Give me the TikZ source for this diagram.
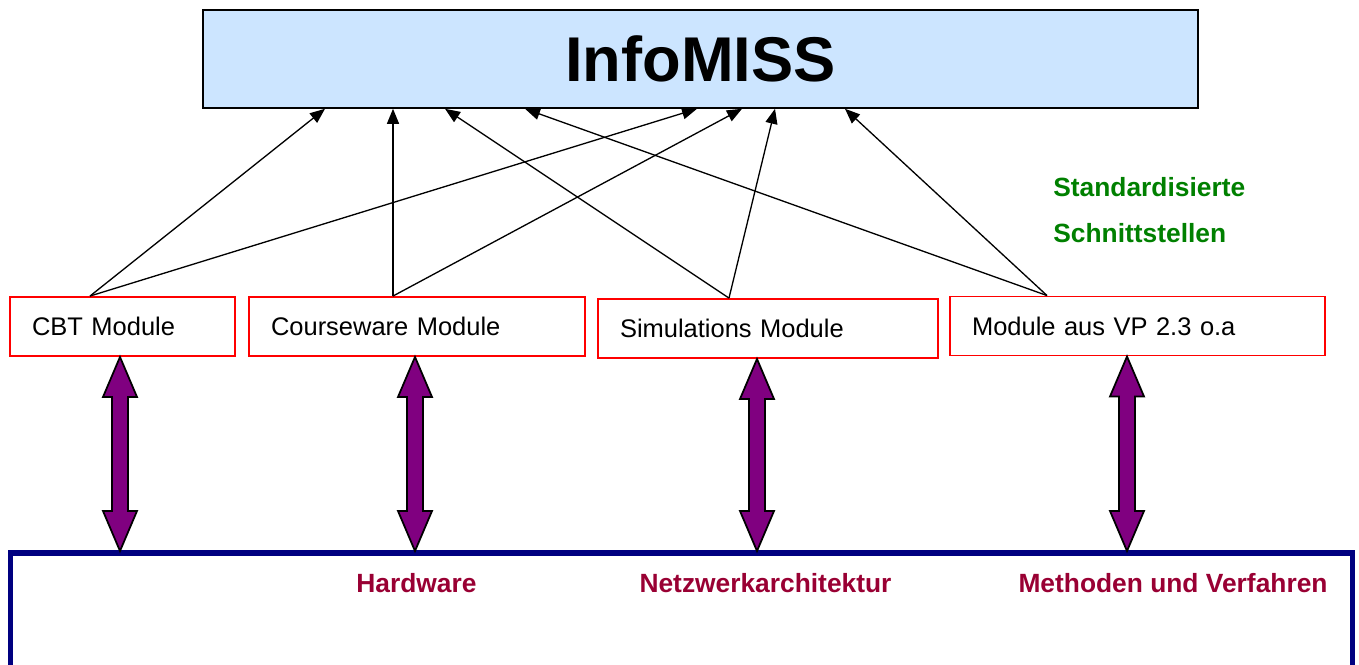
\documentclass[tikz,border=0pt]{standalone}
\usepackage{fontspec}
\setmainfont{Liberation Sans}
\usetikzlibrary{arrows.meta,calc}
\definecolor{boxblue}{RGB}{204,229,255}
\definecolor{navyline}{RGB}{0,0,128}
\definecolor{labelred}{RGB}{153,0,51}
\definecolor{stdgreen}{RGB}{0,128,0}
\definecolor{fatpurple}{RGB}{128,0,128}

\begin{document}
\begin{tikzpicture}[x=0.02cm,y=-0.02cm,>={Triangle[length=0.3cm,width=0.24cm]},
  modul/.style={draw=red,line width=1.1pt,minimum height=1.18cm,inner xsep=0.44cm,align=left,font=\fontsize{14.5}{17}\selectfont},
  link/.style={->,line width=0.75pt},
  fat/.style={fill=fatpurple,draw=black,line width=1pt},
  lab/.style={inner sep=0pt,font=\bfseries\fontsize{15}{18}\selectfont}]
\useasboundingbox (0,0) rectangle (1359,664);
\node[draw,line width=0.9pt,fill=boxblue,minimum width=19.9cm,minimum height=1.96cm,font=\bfseries\fontsize{36}{40}\selectfont] (info) at (700.5,59) {InfoMISS};
% module boxes
\node[modul,text width=3.62cm] (cbt) at (122.5,326.5) {CBT Module};
\node[modul,text width=5.84cm] (course) at (417,326.5) {Courseware Module};
\node[modul,text width=5.92cm] (sim) at (768,328.5) {Simulations Module};
\node[modul,text width=6.62cm] (vp) at (1137.5,326) {Module aus VP 2.3 o.a};
\node[lab,text=stdgreen,anchor=west] (std1) at (1053,187) {Standardisierte};
\node[lab,text=stdgreen,anchor=west] (std2) at (1053,233) {Schnittstellen};
% base box
\begin{scope}
\clip (0,0) rectangle (1359,664);
\node[draw=navyline,line width=2.9pt,outer sep=0pt,minimum width=26.84cm,minimum height=2.6cm,anchor=north west] (base) at (10.5,553) {};
\end{scope}
\node[lab,text=labelred] (hw) at (416.5,583) {Hardware};
\node[lab,text=labelred] (net) at (765.5,583) {Netzwerkarchitektur};
\node[lab,text=labelred] (meth) at (1173,583) {Methoden und Verfahren};
% interfaces
\coordinate (cbt-o) at (90,0 |- cbt.north);
\coordinate (course-o) at (393,0 |- course.north);
\coordinate (sim-o) at (729,0 |- sim.north);
\coordinate (vp-o) at (1047,0 |- vp.north);
\foreach \n/\x in {a/325,b/697,c/393,d/742,e/445,f/775,g/525,h/845}
  \coordinate (in-\n) at (\x,0 |- info.south);
\foreach \s/\t in {cbt-o/in-a,cbt-o/in-b,course-o/in-c,course-o/in-d,sim-o/in-e,sim-o/in-f,vp-o/in-g,vp-o/in-h}
  \draw[link] (\s) -- (\t);
% double arrows
\foreach \m/\x in {cbt/120,course/415,sim/757,vp/1127}{
  \coordinate (\m-t) at (\x,0 |- \m.south);
  \coordinate (\m-b) at ($(\x,0 |- base.north)+(0,-2)$);
  \filldraw[fat] (\m-t) -- ++(17,40) -- ++(-9,0) -- ($(\m-b)+(8,-40)$) -- ++(9,0) -- (\m-b)
    -- ++(-17,-40) -- ++(9,0) -- ($(\m-t)+(-8,40)$) -- ++(-9,0) -- cycle;
}
\end{tikzpicture}
\end{document}
